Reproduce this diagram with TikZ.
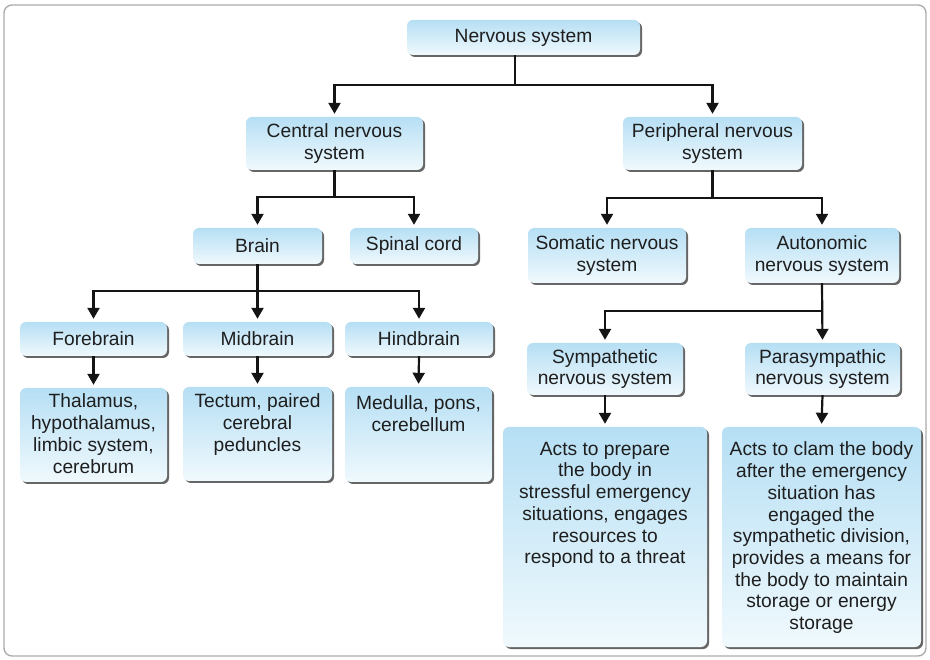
\documentclass[tikz,border=0pt]{standalone}
\usepackage{fontspec}
\setmainfont{Liberation Sans}
\usetikzlibrary{shadows,arrows.meta,calc}

\definecolor{boxtop}{RGB}{182,223,244}
\definecolor{boxbot}{RGB}{240,249,253}
\definecolor{framegray}{RGB}{172,172,172}
\definecolor{inkgray}{RGB}{30,30,30}

\tikzset{
  box/.style={rectangle, rounded corners=6pt, top color=boxtop, bottom color=boxbot,
    draw=none, inner sep=0pt,
    drop shadow={shadow xshift=2pt, shadow yshift=-2pt, fill=black!60, opacity=1}},
  boxtext/.style={font=\fontsize{19.2}{21.7}\selectfont, text=inkgray, align=center, inner sep=0pt},
  link/.style={line width=2.2pt, draw=black!92},
  arrowlink/.style={link, -{Triangle[width=12pt,length=11pt]}, shorten >=3pt},
}

\begin{document}
\begin{tikzpicture}[x=1pt,y=-1pt]
\useasboundingbox (0,0) rectangle (930,660);

% outer frame
\draw[framegray, line width=1.4pt, rounded corners=8pt] (4,5) rectangle (926,656);

% boxes
\node[box, minimum width=233pt, minimum height=35pt] (ns)     at (523.5,37.5) {};
\node[box, minimum width=177pt, minimum height=53pt] (cns)    at (334.5,143.5) {};
\node[box, minimum width=179pt, minimum height=53pt] (pns)    at (712.5,143.5) {};
\node[box, minimum width=129pt, minimum height=36pt] (brain)  at (257.5,246) {};
\node[box, minimum width=128pt, minimum height=36pt] (spinal) at (414,246) {};
\node[box, minimum width=158pt, minimum height=55pt] (som)    at (607,255.5) {};
\node[box, minimum width=154pt, minimum height=55pt] (aut)    at (822,255.5) {};
\node[box, minimum width=147pt, minimum height=34pt] (fore)   at (93.5,339) {};
\node[box, minimum width=149pt, minimum height=34pt] (mid)    at (257.5,339) {};
\node[box, minimum width=148pt, minimum height=34pt] (hind)   at (419,339) {};
\node[box, minimum width=147pt, minimum height=94pt] (thal)   at (93.5,435) {};
\node[box, minimum width=149pt, minimum height=94pt] (tect)   at (257.5,434) {};
\node[box, minimum width=147pt, minimum height=95pt] (med)    at (418.5,434.5) {};
\node[box, minimum width=156pt, minimum height=52pt] (sym)    at (605,369) {};
\node[box, minimum width=155pt, minimum height=52pt] (para)   at (822.5,369) {};
\node[box, minimum width=204pt, minimum height=220pt] (prep)  at (605,537) {};
\node[box, minimum width=199pt, minimum height=220pt] (calm)  at (821.5,537) {};

% labels
\node[boxtext] (ns-t)     at (ns)     {Nervous system};
\node[boxtext] (cns-t)    at (cns)    {Central nervous\\system};
\node[boxtext] (pns-t)    at (pns)    {Peripheral nervous\\system};
\node[boxtext] (brain-t)  at (brain)  {Brain};
\node[boxtext] (spinal-t) at (spinal) {Spinal cord};
\node[boxtext] (som-t)    at (som)    {Somatic nervous\\system};
\node[boxtext] (aut-t)    at (aut)    {Autonomic\\nervous system};
\node[boxtext] (fore-t)   at (fore)   {Forebrain};
\node[boxtext] (mid-t)    at (mid)    {Midbrain};
\node[boxtext] (hind-t)   at (hind)   {Hindbrain};
\node[boxtext, anchor=north] (thal-t) at ([yshift=-6pt]thal.north)
  {Thalamus,\\hypothalamus,\\limbic system,\\cerebrum};
\node[boxtext, anchor=north] (tect-t) at ([yshift=-7pt]tect.north)
  {Tectum, paired\\cerebral\\peduncles};
\node[boxtext, anchor=north] (med-t)  at ([yshift=-9pt]med.north)
  {Medulla, pons,\\cerebellum};
\node[boxtext] (sym-t)    at (sym)    {Sympathetic\\nervous system};
\node[boxtext] (para-t)   at (para)   {Parasympathic\\nervous system};
\node[boxtext, anchor=north] (prep-t) at ([yshift=-15pt]prep.north)
  {Acts to prepare\\the body in\\stressful emergency\\situations, engages\\resources to\\respond to a threat};
\node[boxtext, anchor=north] (calm-t) at ([yshift=-15pt]calm.north)
  {Acts to clam the body\\after the emergency\\situation has\\engaged the\\sympathetic division,\\provides a means for\\the body to maintain\\storage or energy\\storage};

% branch points
\coordinate (j1) at (515,85);
\coordinate (j2) at ($(cns.south)+(0,27)$);
\coordinate (j3) at ($(pns.south)+(0,28)$);
\coordinate (j4) at ($(brain.south)+(0,27)$);
\coordinate (j5) at ($(aut.south)+(0,28)$);

% connectors
\draw[link] (ns.south -| j1) -- (j1);
\draw[arrowlink] (j1) -| (cns.north);
\draw[arrowlink] (j1) -| (pns.north);

\draw[link] (cns.south) -- (j2);
\draw[arrowlink] (j2) -| (brain.north);
\draw[arrowlink] (j2) -| (spinal.north);

\draw[link] (pns.south) -- (j3);
\draw[arrowlink] (j3) -| (som.north);
\draw[arrowlink] (j3) -| (aut.north);

\draw[arrowlink] (brain.south) -- (mid.north);
\draw[arrowlink] (j4) -| (fore.north);
\draw[arrowlink] (j4) -| (hind.north);

\draw[arrowlink] (aut.south) -- (para.north);
\draw[arrowlink] (j5) -| (sym.north);

\draw[arrowlink] (fore.south) -- (thal.north);
\draw[arrowlink] (mid.south) -- (tect.north);
\draw[arrowlink] (hind.south) -- (med.north);
\draw[arrowlink] (sym.south) -- (prep.north);
\draw[arrowlink] (para.south) -- (calm.north);
\end{tikzpicture}
\end{document}
